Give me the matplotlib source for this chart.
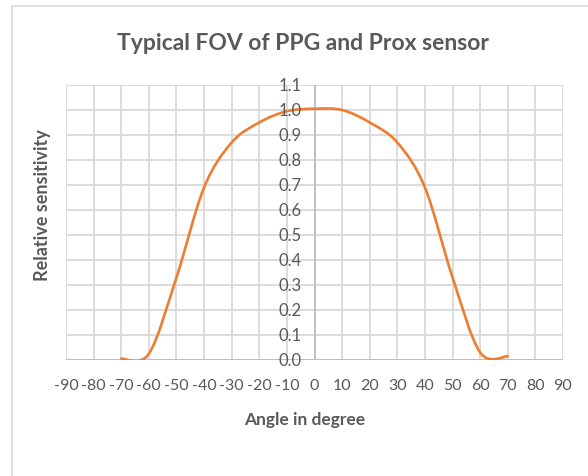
import numpy as np
import matplotlib
matplotlib.use("Agg")
import matplotlib.pyplot as plt
from matplotlib.path import Path
from matplotlib.patches import PathPatch, Rectangle

# data
angle = [-70, -60, -50, -40, -30, -20, -10, 0, 10, 20, 30, 40, 50, 60, 70]
sensitivity = [0.005, 0.025, 0.33, 0.69, 0.87, 0.95, 0.995, 1.005, 1.0, 0.95, 0.87, 0.69, 0.33, 0.03, 0.015]

x_ticks = list(range(-90, 91, 10))
y_ticks = [round(0.1 * i, 1) for i in range(12)]

title = "Typical FOV of PPG and Prox sensor"
x_label = "Angle in degree"
y_label = "Relative sensitivity"

text_col = "#595959"
grid_col = "#d9d9d9"
axis_col = "#bfbfbf"
line_col = "#ED7D31"

plt.rcParams['font.family'] = ['Lato', 'DejaVu Sans']

fig = plt.figure(figsize=(5.88, 4.77), dpi=100)
ax = fig.add_axes([66/588, 1-361/477, (563-66)/588, (361-86)/477])

# outer chart border (runs off right and bottom edges)
fig.patches.append(Rectangle((12/588, -0.1), 1.0, 1-7/477+0.1, transform=fig.transFigure,
                             fill=False, edgecolor=grid_col, linewidth=1.2))

ax.set_xlim(-90, 90)
ax.set_ylim(0, 1.1)
for s in ax.spines.values():
    s.set_visible(False)

for xv in x_ticks:
    ax.axvline(xv, color=grid_col, lw=1.3, zorder=1)
for yv in y_ticks:
    ax.axhline(yv, color=grid_col, lw=1.3, zorder=1)
ax.axvline(0, color=axis_col, lw=1.3, zorder=2)
ax.axhline(0, color=axis_col, lw=1.5, zorder=2)

# excel-style smoothed line (bezier through points)
pts = np.column_stack([angle, sensitivity])
n = len(pts)
verts = [tuple(pts[0])]
codes = [Path.MOVETO]
for i in range(n - 1):
    p0 = pts[max(i - 1, 0)]
    p1 = pts[i]
    p2 = pts[i + 1]
    p3 = pts[min(i + 2, n - 1)]
    c1 = p1 + (p2 - p0) / 6.0
    c2 = p2 - (p3 - p1) / 6.0
    verts += [tuple(c1), tuple(c2), tuple(p2)]
    codes += [Path.CURVE4] * 3
ax.add_patch(PathPatch(Path(verts, codes), fill=False, edgecolor=line_col,
                       lw=1.9, zorder=3, capstyle='round'))

ax.set_xticks([])
ax.set_yticks([])
for xv in x_ticks:
    ax.annotate(str(xv), xy=(xv, 0), xycoords='data', xytext=(0, -25),
                textcoords='offset pixels', ha='center', va='center',
                fontsize=11.5, color=text_col)
for yv in y_ticks:
    ax.annotate(f"{yv:.1f}", xy=(0, yv), xycoords='data', xytext=(-13, 0),
                textcoords='offset pixels', ha='right', va='center',
                fontsize=12, color=text_col, zorder=4)

fig.text(303/588, 1-44/477, title, ha='center', va='center', fontsize=16.5,
         fontweight='bold', color=text_col)
fig.text(305/588, 1-420/477, x_label, ha='center', va='center', fontsize=12.5,
         fontweight='bold', color=text_col)
fig.text(43/588, 1-205/477, y_label, ha='center', va='center', fontsize=13,
         fontweight='bold', color=text_col, rotation=90)

fig.savefig("out.png", dpi=100)
